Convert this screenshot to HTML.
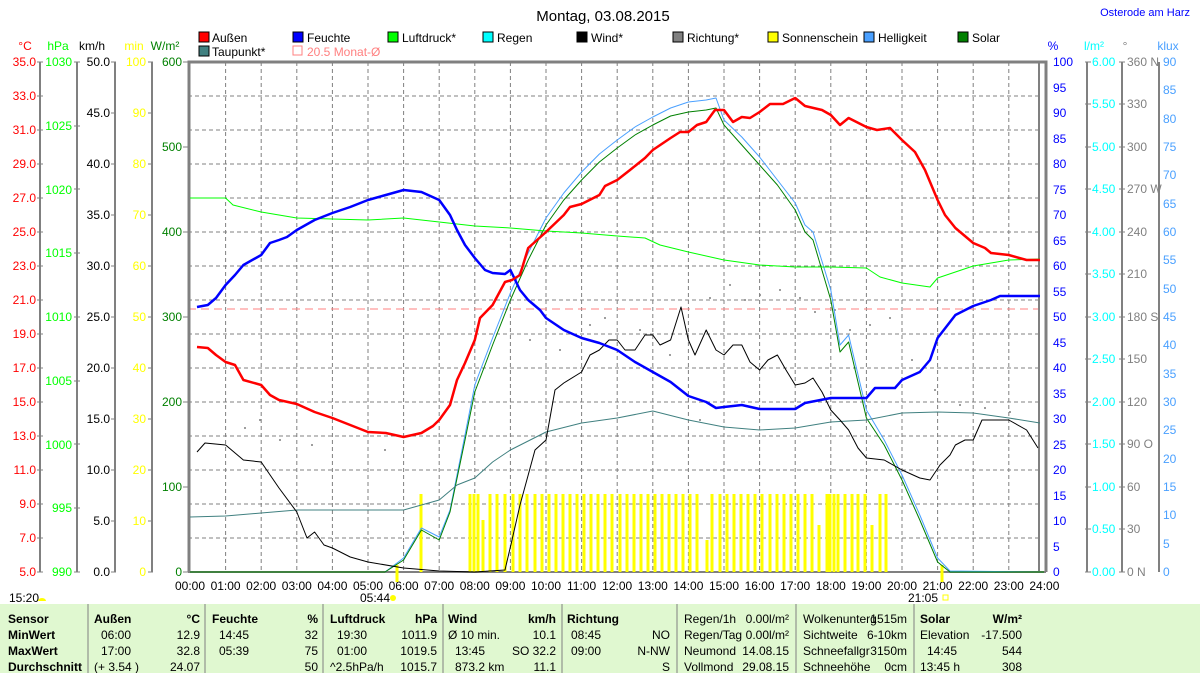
<!DOCTYPE html>
<html><head><meta charset="utf-8"><style>
body{margin:0;background:#fff;width:1200px;height:673px;overflow:hidden;font-family:"Liberation Sans",sans-serif}
svg text{font-family:"Liberation Sans",sans-serif;font-size:12px}
</style></head><body>
<svg width="1200" height="673" viewBox="0 0 1200 673" xmlns="http://www.w3.org/2000/svg">
<rect width="1200" height="673" fill="#fff"/>
<text x="603" y="21" text-anchor="middle" style="font-size:15px" fill="#000">Montag, 03.08.2015</text>
<text x="1190" y="16" text-anchor="end" fill="#0000ff" style="font-size:11px">Osterode am Harz</text>
<g style="font-size:11px">
<rect x="199" y="32" width="10" height="10" fill="#f00" stroke="#000"/><text x="212" y="42">Außen</text>
<rect x="199" y="46" width="10" height="10" fill="#408080" stroke="#000"/><text x="212" y="56">Taupunkt*</text>
<rect x="293" y="32" width="10" height="10" fill="#00f" stroke="#000"/><text x="307" y="42">Feuchte</text>
<rect x="293" y="46" width="9" height="9" fill="none" stroke="#ff8080"/><text x="307" y="56" fill="#ff8080">20.5 Monat-Ø</text>
<rect x="388" y="32" width="10" height="10" fill="#0f0" stroke="#000"/><text x="402" y="42">Luftdruck*</text>
<rect x="483" y="32" width="10" height="10" fill="#0ff" stroke="#000"/><text x="497" y="42">Regen</text>
<rect x="577" y="32" width="10" height="10" fill="#000" stroke="#000"/><text x="591" y="42">Wind*</text>
<rect x="673" y="32" width="10" height="10" fill="#808080" stroke="#000"/><text x="687" y="42">Richtung*</text>
<rect x="768" y="32" width="10" height="10" fill="#ff0" stroke="#000"/><text x="782" y="42">Sonnenschein</text>
<rect x="864" y="32" width="10" height="10" fill="#4aa0ff" stroke="#000"/><text x="878" y="42">Helligkeit</text>
<rect x="958" y="32" width="10" height="10" fill="#008000" stroke="#000"/><text x="972" y="42">Solar</text>
</g>
<g style="font-size:11px">
<text x="25" y="50" fill="#f00" text-anchor="middle">°C</text>
<text x="58" y="50" fill="#0f0" text-anchor="middle">hPa</text>
<text x="92" y="50" fill="#000" text-anchor="middle">km/h</text>
<text x="134" y="50" fill="#ff0" text-anchor="middle">min</text>
<text x="165" y="50" fill="#008000" text-anchor="middle">W/m²</text>
<text x="1053" y="50" fill="#00f" text-anchor="middle">%</text>
<text x="1094" y="50" fill="#0ff" text-anchor="middle">l/m²</text>
<text x="1125" y="50" fill="#808080" text-anchor="middle">°</text>
<text x="1168" y="50" fill="#4aa0ff" text-anchor="middle">klux</text>
</g>
<g stroke="#808080" stroke-dasharray="4,3" stroke-width="1">
<line x1="225.6" y1="62" x2="225.6" y2="572"/><line x1="261.2" y1="62" x2="261.2" y2="572"/><line x1="296.8" y1="62" x2="296.8" y2="572"/><line x1="332.4" y1="62" x2="332.4" y2="572"/><line x1="368" y1="62" x2="368" y2="572"/><line x1="403.6" y1="62" x2="403.6" y2="572"/><line x1="439.2" y1="62" x2="439.2" y2="572"/><line x1="474.8" y1="62" x2="474.8" y2="572"/><line x1="510.4" y1="62" x2="510.4" y2="572"/><line x1="546" y1="62" x2="546" y2="572"/><line x1="581.6" y1="62" x2="581.6" y2="572"/><line x1="617.2" y1="62" x2="617.2" y2="572"/><line x1="652.8" y1="62" x2="652.8" y2="572"/><line x1="688.4" y1="62" x2="688.4" y2="572"/><line x1="724" y1="62" x2="724" y2="572"/><line x1="759.6" y1="62" x2="759.6" y2="572"/><line x1="795.2" y1="62" x2="795.2" y2="572"/><line x1="830.8" y1="62" x2="830.8" y2="572"/><line x1="866.4" y1="62" x2="866.4" y2="572"/><line x1="902" y1="62" x2="902" y2="572"/><line x1="937.6" y1="62" x2="937.6" y2="572"/><line x1="973.2" y1="62" x2="973.2" y2="572"/><line x1="1008.8" y1="62" x2="1008.8" y2="572"/>
<line x1="188" y1="96" x2="1040" y2="96"/><line x1="188" y1="130" x2="1040" y2="130"/><line x1="188" y1="164" x2="1040" y2="164"/><line x1="188" y1="198" x2="1040" y2="198"/><line x1="188" y1="232" x2="1040" y2="232"/><line x1="188" y1="266" x2="1040" y2="266"/><line x1="188" y1="300" x2="1040" y2="300"/><line x1="188" y1="334" x2="1040" y2="334"/><line x1="188" y1="368" x2="1040" y2="368"/><line x1="188" y1="402" x2="1040" y2="402"/><line x1="188" y1="436" x2="1040" y2="436"/><line x1="188" y1="470" x2="1040" y2="470"/><line x1="188" y1="504" x2="1040" y2="504"/><line x1="188" y1="538" x2="1040" y2="538"/>
</g>
<line x1="188" y1="309" x2="1040" y2="309" stroke="#ff8080" stroke-dasharray="8,5"/>
<path d="M189 572 V62 H1046 V572" fill="none" stroke="#808080" stroke-width="3"/>
<line x1="1039" y1="62" x2="1039" y2="572" stroke="#808080" stroke-width="2"/>
<line x1="188" y1="572" x2="1046" y2="572" stroke="#808080" stroke-width="2"/>
<g stroke="#808080" stroke-width="2">
<line x1="40" y1="62" x2="40" y2="572"/><line x1="77" y1="62" x2="77" y2="572"/><line x1="115" y1="62" x2="115" y2="572"/><line x1="152" y1="62" x2="152" y2="572"/>
<line x1="1087" y1="62" x2="1087" y2="572"/><line x1="1122" y1="62" x2="1122" y2="572"/><line x1="1159" y1="62" x2="1159" y2="572"/>
</g>
<g stroke="#808080" stroke-width="1">
<path d="M37 62h6M37 96h6M37 130h6M37 164h6M37 198h6M37 232h6M37 266h6M37 300h6M37 334h6M37 368h6M37 402h6M37 436h6M37 470h6M37 504h6M37 538h6M37 572h6"/>
<path d="M74 62h6M74 126h6M74 189h6M74 253h6M74 317h6M74 381h6M74 444h6M74 508h6M74 572h6"/>
<path d="M111 62h5M111 113h5M111 164h5M111 215h5M111 266h5M111 317h5M111 368h5M111 419h5M111 470h5M111 521h5M111 572h5"/>
<path d="M148 62h5M148 113h5M148 164h5M148 215h5M148 266h5M148 317h5M148 368h5M148 419h5M148 470h5M148 521h5M148 572h5"/>
<path d="M183 62h5M183 147h5M183 232h5M183 317h5M183 402h5M183 487h5M183 572h5"/>
<path d="M1085 62h6M1085 104h6M1085 147h6M1085 189h6M1085 232h6M1085 274h6M1085 317h6M1085 359h6M1085 402h6M1085 444h6M1085 487h6M1085 529h6M1085 572h6"/>
<path d="M1119 62h6M1119 104h6M1119 147h6M1119 189h6M1119 232h6M1119 274h6M1119 317h6M1119 359h6M1119 402h6M1119 444h6M1119 487h6M1119 529h6M1119 572h6"/>
</g>
<g style="font-size:11.5px" text-anchor="end">
<g fill="#f00">
<text x="36" y="66">35.0</text><text x="36" y="100">33.0</text><text x="36" y="134">31.0</text><text x="36" y="168">29.0</text><text x="36" y="202">27.0</text><text x="36" y="236">25.0</text><text x="36" y="270">23.0</text><text x="36" y="304">21.0</text><text x="36" y="338">19.0</text><text x="36" y="372">17.0</text><text x="36" y="406">15.0</text><text x="36" y="440">13.0</text><text x="36" y="474">11.0</text><text x="36" y="508">9.0</text><text x="36" y="542">7.0</text><text x="36" y="576">5.0</text></g>
<g fill="#0f0">
<text x="72" y="66">1030</text><text x="72" y="130">1025</text><text x="72" y="194">1020</text><text x="72" y="257">1015</text><text x="72" y="321">1010</text><text x="72" y="385">1005</text><text x="72" y="449">1000</text><text x="72" y="512">995</text><text x="72" y="576">990</text></g>
<g fill="#000">
<text x="110" y="66">50.0</text><text x="110" y="117">45.0</text><text x="110" y="168">40.0</text><text x="110" y="219">35.0</text><text x="110" y="270">30.0</text><text x="110" y="321">25.0</text><text x="110" y="372">20.0</text><text x="110" y="423">15.0</text><text x="110" y="474">10.0</text><text x="110" y="525">5.0</text><text x="110" y="576">0.0</text></g>
<g fill="#ff0">
<text x="146" y="66">100</text><text x="146" y="117">90</text><text x="146" y="168">80</text><text x="146" y="219">70</text><text x="146" y="270">60</text><text x="146" y="321">50</text><text x="146" y="372">40</text><text x="146" y="423">30</text><text x="146" y="474">20</text><text x="146" y="525">10</text><text x="146" y="576">0</text></g>
<g fill="#008000">
<text x="182" y="66">600</text><text x="182" y="151">500</text><text x="182" y="236">400</text><text x="182" y="321">300</text><text x="182" y="406">200</text><text x="182" y="491">100</text><text x="182" y="576">0</text></g>
</g>
<g style="font-size:11.5px">
<g fill="#00f">
<text x="1053" y="66">100</text><text x="1053" y="92">95</text><text x="1053" y="117">90</text><text x="1053" y="143">85</text><text x="1053" y="168">80</text><text x="1053" y="194">75</text><text x="1053" y="219">70</text><text x="1053" y="245">65</text><text x="1053" y="270">60</text><text x="1053" y="296">55</text><text x="1053" y="321">50</text><text x="1053" y="347">45</text><text x="1053" y="372">40</text><text x="1053" y="398">35</text><text x="1053" y="423">30</text><text x="1053" y="449">25</text><text x="1053" y="474">20</text><text x="1053" y="500">15</text><text x="1053" y="525">10</text><text x="1053" y="551">5</text><text x="1053" y="576">0</text></g>
<g fill="#0ff">
<text x="1092" y="66">6.00</text><text x="1092" y="108">5.50</text><text x="1092" y="151">5.00</text><text x="1092" y="193">4.50</text><text x="1092" y="236">4.00</text><text x="1092" y="278">3.50</text><text x="1092" y="321">3.00</text><text x="1092" y="363">2.50</text><text x="1092" y="406">2.00</text><text x="1092" y="448">1.50</text><text x="1092" y="491">1.00</text><text x="1092" y="533">0.50</text><text x="1092" y="576">0.00</text></g>
<g fill="#808080">
<text x="1127" y="66">360 N</text><text x="1127" y="108">330</text><text x="1127" y="151">300</text><text x="1127" y="193">270 W</text><text x="1127" y="236">240</text><text x="1127" y="278">210</text><text x="1127" y="321">180 S</text><text x="1127" y="363">150</text><text x="1127" y="406">120</text><text x="1127" y="448">90 O</text><text x="1127" y="491">60</text><text x="1127" y="533">30</text><text x="1127" y="576">0 N</text></g>
<g fill="#4aa0ff">
<text x="1163" y="66">90</text><text x="1163" y="94">85</text><text x="1163" y="123">80</text><text x="1163" y="151">75</text><text x="1163" y="179">70</text><text x="1163" y="208">65</text><text x="1163" y="236">60</text><text x="1163" y="264">55</text><text x="1163" y="293">50</text><text x="1163" y="321">45</text><text x="1163" y="349">40</text><text x="1163" y="378">35</text><text x="1163" y="406">30</text><text x="1163" y="434">25</text><text x="1163" y="463">20</text><text x="1163" y="491">15</text><text x="1163" y="519">10</text><text x="1163" y="548">5</text><text x="1163" y="576">0</text></g>
</g>
<g style="font-size:11.5px" text-anchor="middle" fill="#000">
<text x="190" y="590">00:00</text><text x="225.6" y="590">01:00</text><text x="261.2" y="590">02:00</text><text x="296.8" y="590">03:00</text><text x="332.4" y="590">04:00</text><text x="368" y="590">05:00</text><text x="403.6" y="590">06:00</text><text x="439.2" y="590">07:00</text><text x="474.8" y="590">08:00</text><text x="510.4" y="590">09:00</text><text x="546" y="590">10:00</text><text x="581.6" y="590">11:00</text><text x="617.2" y="590">12:00</text><text x="652.8" y="590">13:00</text><text x="688.4" y="590">14:00</text><text x="724" y="590">15:00</text><text x="759.6" y="590">16:00</text><text x="795.2" y="590">17:00</text><text x="830.8" y="590">18:00</text><text x="866.4" y="590">19:00</text><text x="902" y="590">20:00</text><text x="937.6" y="590">21:00</text><text x="973.2" y="590">22:00</text><text x="1008.8" y="590">23:00</text><text x="1044.4" y="590">24:00</text>
<text x="375" y="602">05:44</text><text x="923" y="602">21:05</text><text x="24" y="602">15:20</text>
</g>
<circle cx="393" cy="598" r="3" fill="#ff0"/><rect x="943" y="595" width="5" height="5" fill="none" stroke="#ff0"/><path d="M38 601 a4 3 0 0 1 8 0z" fill="#ff0"/>
<g stroke="#ff0" stroke-width="3">
<path d="M421 494V572M470 494V572M474 494V572M478 494V572M483 520V572M490 494V572M497 494V572M505 494V572M513 494V572M520 494V572M527 494V572M535 494V572M542 494V572M549 494V572M556 494V572M563 494V572M570 494V572M577 494V572M584 494V572M591 494V572M598 494V572M605 494V572M612 494V572M620 494V572M627 494V572M634 494V572M641 494V572M648 494V572M655 494V572M662 494V572M669 494V572M676 494V572M683 494V572M690 494V572M697 494V572M707 540V572M712 494V572M720 494V572M727 494V572M734 494V572M741 494V572M748 494V572M755 494V572M762 494V572M770 494V572M777 494V572M784 494V572M791 494V572M798 494V572M805 494V572M812 494V572M819 525V572M827 494V572M830 494V572M834 494V572M838 494V572M845 494V572M852 494V572M858 494V572M865 494V572M872 525V572M880 494V572M886 494V572"/>
<path d="M397 565V582M942 565V582"/>
</g>
<g fill="#808080">
<circle cx="245" cy="428" r="1"/><circle cx="260" cy="420" r="1"/><circle cx="280" cy="440" r="1"/><circle cx="312" cy="445" r="1"/><circle cx="385" cy="450" r="1"/><circle cx="530" cy="340" r="1"/><circle cx="560" cy="350" r="1"/><circle cx="590" cy="325" r="1"/><circle cx="605" cy="318" r="1"/><circle cx="640" cy="330" r="1"/><circle cx="670" cy="355" r="1"/><circle cx="700" cy="420" r="1"/><circle cx="710" cy="298" r="1"/><circle cx="730" cy="285" r="1"/><circle cx="745" cy="300" r="1"/><circle cx="760" cy="295" r="1"/><circle cx="780" cy="290" r="1"/><circle cx="800" cy="298" r="1"/><circle cx="815" cy="312" r="1"/><circle cx="835" cy="310" r="1"/><circle cx="850" cy="330" r="1"/><circle cx="870" cy="325" r="1"/><circle cx="890" cy="318" r="1"/><circle cx="912" cy="360" r="1"/><circle cx="935" cy="390" r="1"/><circle cx="960" cy="405" r="1"/><circle cx="985" cy="408" r="1"/><circle cx="1010" cy="412" r="1"/>
</g>
<g fill="none" stroke-linejoin="round">
<polyline stroke="#4aa0ff" stroke-width="1" points="190,572 385,572 403.6,558 421.4,528 439.2,537 450,510 465,435 474.8,385 492.6,338 510.4,293 528.2,253 546,218 563.8,193 581.6,172 599.4,154 617.2,140 635,127 652.8,117 670.6,108 688.4,102 706.2,100 716,98 724,120 741.8,137 759.6,157 777.4,180 795.2,203 805,225 813,232 830.8,290 840,345 848.6,335 866.4,410 884.2,440 902,475 919.8,515 937.6,558 950,571 1044,572"/>
<polyline stroke="#008000" stroke-width="1" points="190,572 385,572 403.6,560 421.4,530 439.2,540 450,512 465,440 474.8,392 492.6,345 510.4,300 528.2,260 546,225 563.8,200 581.6,180 599.4,162 617.2,148 635,135 652.8,125 670.6,116 688.4,112 706.2,110 716,108 724,125 741.8,145 759.6,165 777.4,185 795.2,210 805,232 813,240 830.8,300 840,352 848.6,342 866.4,418 884.2,445 902,480 919.8,520 937.6,562 950,572 1044,572"/>
<polyline stroke="#408080" stroke-width="1" points="190,517 225.6,516 261.2,513 296.8,510 332.4,510 368,510 403.6,510 421.4,505 439.2,500 457,485 474.8,478 492.6,462 510.4,450 546,432 581.6,423 617.2,418 652.8,411 688.4,420 724,427 759.6,430 795.2,428 830.8,422 866.4,420 902,413 937.6,412 973.2,413 1008.8,418 1040,423"/>
<polyline stroke="#0f0" stroke-width="1" points="190,198 225.6,198 233,205 261.2,212 296.8,218 332.4,219 368,220 403.6,218 439.2,222 474.8,226 510.4,228 546,231 581.6,233 617.2,236 645,238 660,245 688.4,252 724,260 759.6,265 795.2,267 830.8,267 866.4,268 880,277 902,283 930,287 937.6,278 973.2,266 1008.8,260 1040,259"/>
<polyline stroke="#000" stroke-width="1" points="197,452 205,443 225.6,445 243.4,460 261.2,462 279,488 296.8,512 307,538 314.6,532 324,545 332.4,548 350.2,557 368,562 403.6,568 439.2,571 474.8,572 505,570 512,540 520,505 528.2,475 535,450 546,440 555,390 563.8,383 581.6,372 590,355 599.4,350 609,340 617.2,340 625,350 635,350 645,335 652.8,335 660,345 670.6,340 681,307 688.4,340 695,355 706.2,330 716,350 724,355 733,345 741.8,345 750,362 759.6,370 768,360 777.4,355 786,370 795.2,385 805,383 813,378 822,392 830.8,410 840,420 848.6,430 858,448 866.4,458 884.2,460 902,470 919.8,478 930,480 940,465 950,455 955.4,445 965,440 973.2,440 982,420 1008.8,420 1026.6,430 1038,448"/>
<polyline stroke="#00f" stroke-width="2.5" points="197,307 207.8,305 216,298 225.6,285 235,275 243.4,265 261.2,255 270,243 279,240 287,237 296.8,230 314.6,220 332.4,213 350.2,207 368,200 385.8,195 403.6,190 421.4,192 439.2,200 450,215 457,230 465,245 474.8,258 485,270 492.6,273 505,274 510.4,270 520,290 528.2,300 540,310 546,318 563.8,330 581.6,338 599.4,343 617.2,350 635,362 652.8,372 670.6,382 688.4,396 706.2,402 716,408 724,407 741.8,405 759.6,409 795.2,409 805,403 830.8,398 866.4,398 875,388 895,388 902,380 919.8,372 930,360 937.6,338 955.4,315 973.2,306 991,300 1000,296 1040,296"/>
<polyline stroke="#f00" stroke-width="2.5" points="197,347 207.8,348 216,355 225.6,362 235,365 243.4,380 261.2,385 270,395 279,400 296.8,404 314.6,412 332.4,418 350.2,425 368,432 385.8,433 403.6,437 421.4,433 433,426 439.2,420 450,405 457,380 465,363 474.8,340 480,318 492.6,305 505,282 512,280 520,275 528.2,248 546,232 563.8,215 570,207 581.6,204 599.4,195 605,186 617.2,180 630,170 645,158 652.8,150 670.6,138 680,132 688.4,132 697,125 706.2,122 715,110 724,110 733,122 741.8,117 750,118 759.6,112 770,104 783,104 795.2,98 805,106 822,110 830.8,115 840,125 848.6,118 866.4,127 877,130 890,128 902,140 915,152 925,170 937.6,200 945,215 955.4,228 973.2,243 985,248 991,253 1008.8,255 1026.6,260 1040,260"/>
</g>
<rect x="0" y="604" width="1200" height="69" fill="#e0f8d0"/>
<g stroke="#808080" stroke-width="1">
<line x1="88" y1="604" x2="88" y2="673"/><line x1="205" y1="604" x2="205" y2="673"/><line x1="323" y1="604" x2="323" y2="673"/><line x1="443" y1="604" x2="443" y2="673"/><line x1="562" y1="604" x2="562" y2="673"/><line x1="677" y1="604" x2="677" y2="673"/><line x1="796" y1="604" x2="796" y2="673"/><line x1="914" y1="604" x2="914" y2="673"/>
</g>
<g style="font-size:11px" fill="#000">
<g style="font-weight:bold">
<text x="8" y="623">Sensor</text><text x="8" y="639">MinWert</text><text x="8" y="655">MaxWert</text><text x="8" y="671">Durchschnitt</text>
<text x="94" y="623">Außen</text><text x="200" y="623" text-anchor="end">°C</text>
<text x="212" y="623">Feuchte</text><text x="318" y="623" text-anchor="end">%</text>
<text x="330" y="623">Luftdruck</text><text x="437" y="623" text-anchor="end">hPa</text>
<text x="448" y="623">Wind</text><text x="556" y="623" text-anchor="end">km/h</text>
<text x="567" y="623">Richtung</text>
<text x="920" y="623">Solar</text><text x="1022" y="623" text-anchor="end">W/m²</text>
</g>
<text x="101" y="639">06:00</text><text x="200" y="639" text-anchor="end">12.9</text>
<text x="101" y="655">17:00</text><text x="200" y="655" text-anchor="end">32.8</text>
<text x="94" y="671">(+ 3.54 )</text><text x="200" y="671" text-anchor="end">24.07</text>
<text x="219" y="639">14:45</text><text x="318" y="639" text-anchor="end">32</text>
<text x="219" y="655">05:39</text><text x="318" y="655" text-anchor="end">75</text>
<text x="318" y="671" text-anchor="end">50</text>
<text x="337" y="639">19:30</text><text x="437" y="639" text-anchor="end">1011.9</text>
<text x="337" y="655">01:00</text><text x="437" y="655" text-anchor="end">1019.5</text>
<text x="330" y="671">^2.5hPa/h</text><text x="437" y="671" text-anchor="end">1015.7</text>
<text x="448" y="639">Ø 10 min.</text><text x="556" y="639" text-anchor="end">10.1</text>
<text x="455" y="655">13:45</text><text x="556" y="655" text-anchor="end">SO 32.2</text>
<text x="455" y="671">873.2 km</text><text x="556" y="671" text-anchor="end">11.1</text>
<text x="571" y="639">08:45</text><text x="670" y="639" text-anchor="end">NO</text>
<text x="571" y="655">09:00</text><text x="670" y="655" text-anchor="end">N-NW</text>
<text x="670" y="671" text-anchor="end">S</text>
<text x="684" y="623">Regen/1h</text><text x="789" y="623" text-anchor="end">0.00l/m²</text>
<text x="684" y="639">Regen/Tag</text><text x="789" y="639" text-anchor="end">0.00l/m²</text>
<text x="684" y="655">Neumond</text><text x="789" y="655" text-anchor="end">14.08.15</text>
<text x="684" y="671">Vollmond</text><text x="789" y="671" text-anchor="end">29.08.15</text>
<text x="803" y="623">Wolkenunterg</text><text x="907" y="623" text-anchor="end">1515m</text>
<text x="803" y="639">Sichtweite</text><text x="907" y="639" text-anchor="end">6-10km</text>
<text x="803" y="655">Schneefallgr</text><text x="907" y="655" text-anchor="end">3150m</text>
<text x="803" y="671">Schneehöhe</text><text x="907" y="671" text-anchor="end">0cm</text>
<text x="920" y="639">Elevation</text><text x="1022" y="639" text-anchor="end">-17.500</text>
<text x="927" y="655">14:45</text><text x="1022" y="655" text-anchor="end">544</text>
<text x="920" y="671">13:45 h</text><text x="1022" y="671" text-anchor="end">308</text>
</g>
</svg>
</body></html>
